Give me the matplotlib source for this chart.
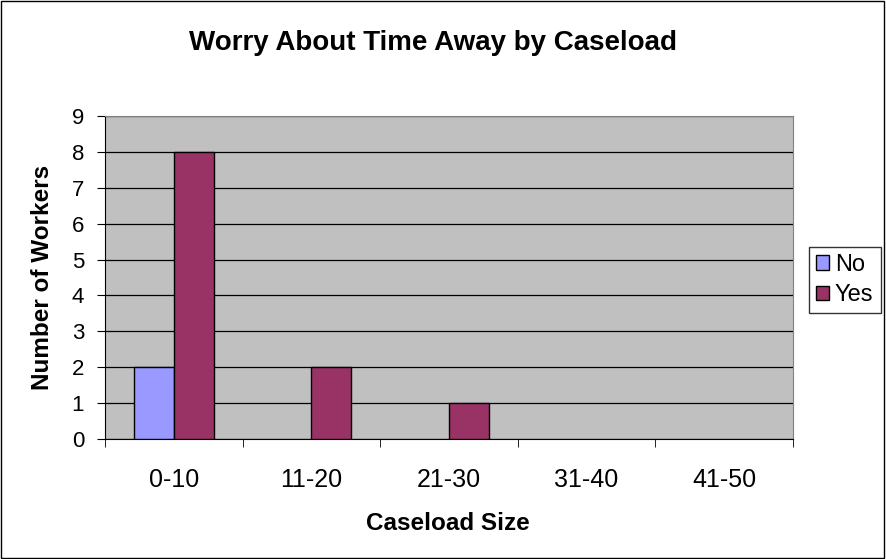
import matplotlib.pyplot as plt
import numpy as np
from matplotlib.patches import Rectangle

categories = ["0-10", "11-20", "21-30", "31-40", "41-50"]
no_vals = [2, 0, 0, 0, 0]
yes_vals = [8, 2, 1, 0, 0]

plt.rcParams["font.family"] = ["Liberation Sans", "DejaVu Sans"]

W, H = 886, 559
fig = plt.figure(figsize=(W / 100, H / 100), dpi=100)
# outer chart border
fig.patches.append(Rectangle((0.001, 0.001), 0.997, 0.997, transform=fig.transFigure,
                             fill=False, edgecolor="black", linewidth=1))

ax = fig.add_axes([105 / W, 1 - 439 / H, 688 / W, 323 / H])
ax.set_facecolor("#c0c0c0")

x = np.arange(len(categories))
w = 0.29
ax.bar(x - w / 2, no_vals, w, color="#9999ff", edgecolor="black",
       linewidth=[1 if v else 0 for v in no_vals], label="No", zorder=3)
ax.bar(x + w / 2, yes_vals, w, color="#993366", edgecolor="black",
       linewidth=[1 if v else 0 for v in yes_vals], label="Yes", zorder=3)

ax.set_xlim(-0.5, len(categories) - 0.5)
ax.set_ylim(0, 9)
ax.set_yticks(range(10))
ax.set_xticks(x)
ax.set_xticklabels(categories)
ax.set_xticks(np.arange(-0.5, len(categories)), minor=True)
ax.tick_params(axis="x", which="major", length=0, pad=21, labelsize=18)
ax.tick_params(axis="x", which="minor", length=6, direction="out")
ax.tick_params(axis="y", length=6, direction="out", labelsize=16, pad=9)
ax.yaxis.grid(True, color="black", linewidth=0.9, zorder=1)
ax.set_axisbelow(True)
for side in ["top", "right"]:
    ax.spines[side].set_color("#808080")
for side in ["left", "bottom"]:
    ax.spines[side].set_color("black")

ax.set_xlabel("Caseload Size", fontsize=17.5, fontweight="bold")
ax.xaxis.set_label_coords(448 / W, 1 - 523 / H, transform=fig.transFigure)
ax.set_ylabel("Number of Workers", fontsize=17.5, fontweight="bold")
ax.yaxis.set_label_coords(43 / W, 1 - 277 / H, transform=fig.transFigure)
for lab in (ax.xaxis.label, ax.yaxis.label):
    lab.set_verticalalignment("center")
fig.text(433 / W, 1 - 43 / H, "Worry About Time Away by Caseload", ha="center", va="center",
         fontsize=20, fontweight="bold")

leg = fig.legend(loc="center left", bbox_to_anchor=(809 / W, 1 - 280 / H), frameon=True,
                 fancybox=False, edgecolor="black", fontsize=17, handlelength=0.55,
                 handleheight=0.55, handletextpad=0.25, borderpad=0.3, labelspacing=0.35,
                 borderaxespad=0)
leg.get_frame().set_linewidth(1)

fig.savefig("out.png", dpi=100)
